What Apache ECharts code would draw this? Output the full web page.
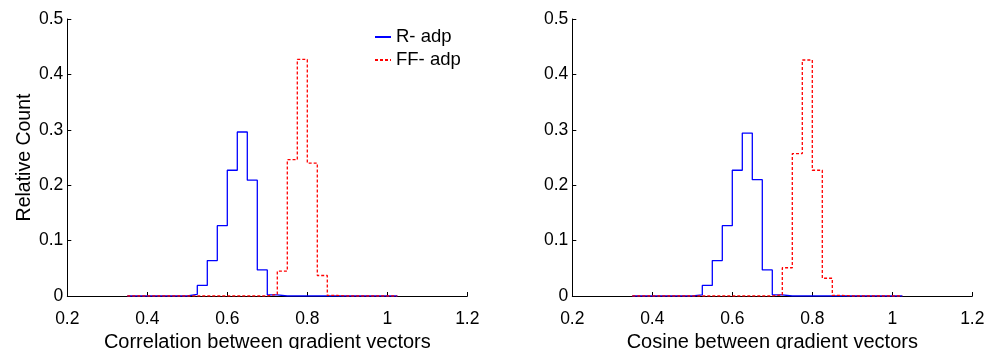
<!DOCTYPE html>
<html>
<head>
<meta charset="utf-8">
<script src="https://cdn.jsdelivr.net/npm/echarts@6/dist/echarts.min.js"></script>
<style>
  html, body { margin: 0; padding: 0; background: #fff; }
  #chart { width: 999px; height: 349px; }
</style>
</head>
<body>
<div id="chart"></div>
<script>
// Bin edges of the histograms (left edge of each bin, last entry closes the final bin)
const binEdges = [0.35, 0.375, 0.4, 0.425, 0.45, 0.475, 0.5, 0.525, 0.55, 0.575,
                  0.6, 0.625, 0.65, 0.675, 0.7, 0.725, 0.75, 0.775, 0.8, 0.825,
                  0.85, 0.875, 0.9, 0.925, 0.95, 0.975, 1.0, 1.025];

// Left panel: correlation between gradient vectors
const corrRadp  = [0, 0, 0, 0, 0, 0, 0.003, 0.019, 0.064, 0.127,
                   0.227, 0.296, 0.209, 0.047, 0.002, 0, 0, 0, 0, 0,
                   0, 0, 0, 0, 0, 0, 0, 0];
const corrFFadp = [0, 0, 0, 0, 0, 0, 0, 0, 0, 0,
                   0, 0, 0, 0, 0.003, 0.045, 0.246, 0.427, 0.240, 0.037,
                   0.001, 0, 0, 0, 0, 0, 0, 0];

// Right panel: cosine between gradient vectors
const cosRadp   = [0, 0, 0, 0, 0, 0, 0.002, 0.019, 0.064, 0.127,
                   0.227, 0.294, 0.210, 0.047, 0.002, 0, 0, 0, 0, 0,
                   0, 0, 0, 0, 0, 0, 0, 0];
const cosFFadp  = [0, 0, 0, 0, 0, 0, 0, 0, 0, 0,
                   0, 0, 0, 0, 0.002, 0.051, 0.257, 0.426, 0.227, 0.032,
                   0.001, 0, 0, 0, 0, 0, 0, 0];

const seriesNames = ['R- adp', 'FF- adp'];
const xTitles = ['Correlation between gradient vectors', 'Cosine between gradient vectors'];
const yTitle = 'Relative Count';

const FONT = "'Liberation Sans', Arial, Helvetica, sans-serif";

function pairs(values) {
  return binEdges.map((x, i) => [x, values[i]]);
}

function xAxis(gridIndex, title) {
  return {
    type: 'value', gridIndex, min: 0.2, max: 1.2, interval: 0.2,
    name: title, nameLocation: 'middle', nameGap: 34,
    nameTextStyle: { fontFamily: FONT, fontSize: 20, color: '#000' },
    axisLine: { onZero: false, lineStyle: { color: '#000', width: 1 } },
    axisTick: { inside: true, length: 4, lineStyle: { color: '#000' } },
    axisLabel: { margin: 14, fontFamily: FONT, fontSize: 17.5, color: '#000' },
    splitLine: { show: false }
  };
}

function yAxis(gridIndex, title) {
  return {
    type: 'value', gridIndex, min: 0, max: 0.5, interval: 0.1,
    name: title, nameLocation: 'middle', nameGap: 29,
    nameTextStyle: { fontFamily: FONT, fontSize: 19.5, color: '#000' },
    axisLine: { show: true, lineStyle: { color: '#000', width: 1 } },
    axisTick: { show: true, inside: true, length: 4, lineStyle: { color: '#000' } },
    axisLabel: { margin: 4, fontFamily: FONT, fontSize: 17.5, color: '#000' },
    splitLine: { show: false }
  };
}

function stairs(name, values, idx, color, dashed) {
  return {
    name, type: 'line', xAxisIndex: idx, yAxisIndex: idx,
    step: 'end', symbol: 'none', animation: false,
    data: pairs(values),
    lineStyle: { color, width: 1.3, type: dashed ? [3, 2] : 'solid' },
    itemStyle: { color }
  };
}

const chart = echarts.init(document.getElementById('chart'), null, { renderer: 'canvas' });
chart.setOption({
  backgroundColor: '#fff',
  animation: false,
  grid: [
    { left: 67.3, width: 400, top: 19, height: 277, outerBoundsMode: 'none', containLabel: false },
    { left: 572.3, width: 400, top: 19, height: 277, outerBoundsMode: 'none', containLabel: false }
  ],
  xAxis: [xAxis(0, xTitles[0]), xAxis(1, xTitles[1])],
  yAxis: [yAxis(0, yTitle), yAxis(1, '')],
  legend: {
    orient: 'vertical', left: 369, top: 22, itemGap: 3,
    itemWidth: 16, itemHeight: 10,
    data: seriesNames,
    itemStyle: { opacity: 0 },
    textStyle: { fontFamily: FONT, fontSize: 18.5, color: '#000', lineHeight: 20 }
  },
  series: [
    stairs(seriesNames[0], corrRadp, 0, '#0000ff', false),
    stairs(seriesNames[1], corrFFadp, 0, '#ff0000', true),
    stairs(seriesNames[0], cosRadp, 1, '#0000ff', false),
    stairs(seriesNames[1], cosFFadp, 1, '#ff0000', true)
  ]
});
</script>
</body>
</html>
